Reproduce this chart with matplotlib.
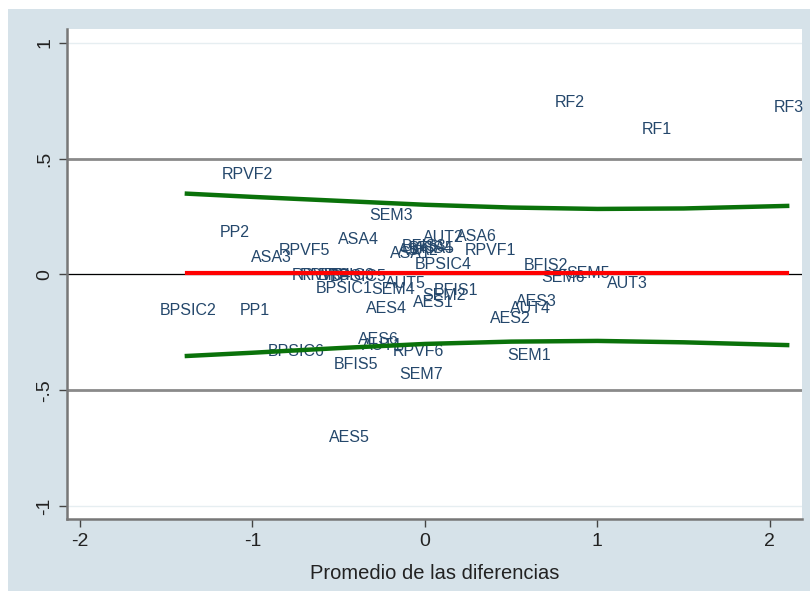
import matplotlib
matplotlib.use("Agg")
import matplotlib.pyplot as plt
from matplotlib.patches import Rectangle

# point labels (item names) and their coordinates
labels = ["RF2", "RF1", "RF3", "RPVF2", "SEM3", "PP2", "ASA4", "RPVF5", "ASA3",
          "AUT2", "ASA6", "ASA1", "ASA2", "BFIS3", "BFIS4", "ASA5", "RPVF1", "BPSIC4",
          "RPVF3", "RPVF4", "BPSIC3", "BPSIC5", "BPSIC1", "SEM4", "AUT5", "BFIS1",
          "SEM2", "AES1", "AES4", "BFIS2", "SEM6", "SEM5", "AUT3", "AES3", "AUT4",
          "AES2", "BPSIC2", "PP1", "AES6", "AUT1", "BPSIC6", "RPVF6", "BFIS5",
          "SEM7", "SEM1", "AES5"]
x_vals = [0.736, 1.239, 2.006, -1.196, -0.336, -1.206, -0.523, -0.864, -1.026,
          -0.029, 0.162, -0.220, -0.174, -0.151, -0.110, -0.081, 0.214, -0.075,
          -0.788, -0.742, -0.638, -0.568, -0.651, -0.325, -0.249, 0.035,
          -0.029, -0.087, -0.355, 0.557, 0.659, 0.806, 1.038, 0.514, 0.475,
          0.359, -1.554, -1.090, -0.404, -0.383, -0.926, -0.201, -0.543,
          -0.162, 0.462, -0.574]
y_vals = [0.741, 0.624, 0.720, 0.430, 0.253, 0.181, 0.153, 0.103, 0.074,
          0.160, 0.162, 0.089, 0.102, 0.119, 0.110, 0.110, 0.102, 0.045,
          -0.006, -0.004, -0.006, -0.010, -0.060, -0.063, -0.037, -0.071,
          -0.093, -0.123, -0.146, 0.039, -0.011, 0.002, -0.037, -0.117, -0.145,
          -0.192, -0.156, -0.156, -0.283, -0.305, -0.333, -0.333, -0.387,
          -0.430, -0.348, -0.703]

# smoothed mean and limit curves
mean_x = [-1.38, 2.1]
mean_y = [0.005, 0.005]
band_x = [-1.38, -1.0, -0.5, 0.0, 0.5, 1.0, 1.5, 2.1]
upper_y = [0.349, 0.335, 0.318, 0.301, 0.289, 0.283, 0.285, 0.296]
lower_y = [-0.352, -0.338, -0.318, -0.300, -0.290, -0.287, -0.293, -0.305]
limits = [0.5, -0.5]

xticks = [-2, -1, 0, 1, 2]
yticks = [1, 0.5, 0, -0.5, -1]
ytick_labels = ["1", ".5", "0", "-.5", "-1"]

plt.rcParams['font.family'] = ['Liberation Sans', 'DejaVu Sans']

fig = plt.figure(figsize=(8.1, 5.91), dpi=100, facecolor='white')
fig.patches.append(Rectangle((8 / 810, 0), 1, (591 - 9) / 591, transform=fig.transFigure,
                             facecolor='#d6e2e9', edgecolor='none', zorder=-5))
ax = fig.add_axes([67 / 810, 72 / 591, 735 / 810, 490 / 591])
ax.set_zorder(2)
ax.set_facecolor('white')

for yt in yticks:
    ax.axhline(yt, color='#e6eef1', lw=1.0, zorder=1)
for lim in limits:
    ax.axhline(lim, color='#8a8a8a', lw=2.0, zorder=2)
ax.axhline(0, color='black', lw=0.9, zorder=2)

# item labels go under the fitted lines, as in the original
for name, xv, yv in zip(labels, x_vals, y_vals):
    ax.annotate(name, (xv, yv), xytext=(2, 0), textcoords='offset points',
                ha='left', va='center', fontsize=11.5, color='#24476b',
                annotation_clip=False, clip_on=False, zorder=3)

ax.plot(mean_x, mean_y, color='#ff0000', lw=3.0, zorder=5)
ax.plot(band_x, upper_y, color='#0a720a', lw=3.2, zorder=5)
ax.plot(band_x, lower_y, color='#0a720a', lw=3.2, zorder=5)

ax.set_xlim(-2.075, 2.186)
ax.set_ylim(-1.056, 1.06)
ax.set_xticks(xticks)
ax.set_xticklabels([str(t) for t in xticks])
ax.set_yticks(yticks)
ax.set_yticklabels(ytick_labels, rotation=90, va='center')
ax.tick_params(axis='both', direction='out', length=6, width=1, color='#444444',
               labelsize=14, labelcolor='#222222', pad=4)

for side in ['top', 'right']:
    ax.spines[side].set_visible(False)
for side in ['left', 'bottom']:
    ax.spines[side].set_color('#777777')
    ax.spines[side].set_linewidth(1.8)

ax.set_xlabel('Promedio de las diferencias', fontsize=14.5, color='#222222', labelpad=10)

fig.savefig('out.png', dpi=100, facecolor=fig.get_facecolor())
